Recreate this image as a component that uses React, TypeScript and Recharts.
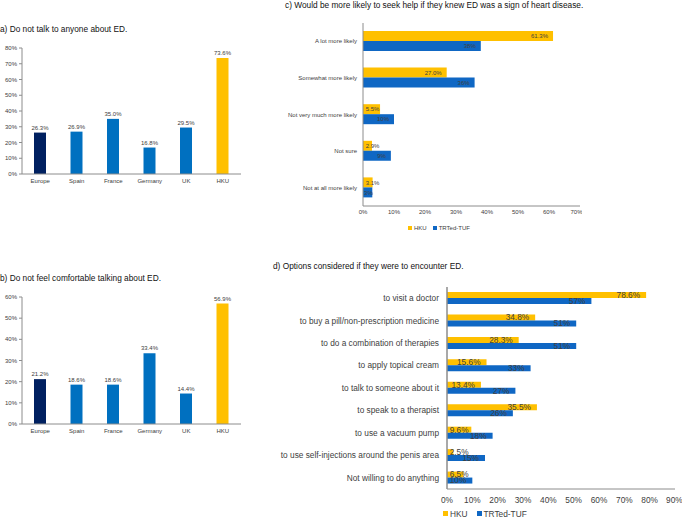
import { BarChart, Bar, XAxis, YAxis, Cell, LabelList, Legend } from "recharts";

const FONT = '"Liberation Sans", Arial, sans-serif';
const YELLOW = "#FFC000";
const BLUE = "#0070C0";
const NAVY = "#002060";
const BAR_BLUE = "#0F67C4";
const AXIS = "#8C8C8C";
const TEXT = "#404040";

// a) / b) country comparison
const countries = ["Europe", "Spain", "France", "Germany", "UK", "HKU"];
const notTalkPct = [26.3, 26.9, 35.0, 16.8, 29.5, 73.6];
const notComfortablePct = [21.2, 18.6, 18.6, 33.4, 14.4, 56.9];
const countryColors = [NAVY, BLUE, BLUE, BLUE, BLUE, YELLOW];

// c) seek help if ED is a sign of heart disease
const seekHelpLabels = ["A lot more likely", "Somewhat more likely", "Not very much more likely", "Not sure", "Not at all more likely"];
const seekHelpHku = [61.3, 27.0, 5.5, 2.9, 3.1];
const seekHelpTrted = [38, 36, 10, 9, 3];

// d) options considered
const optionLabels = [
  "to visit a doctor",
  "to buy a pill/non-prescription medicine",
  "to do a combination of therapies",
  "to apply topical cream",
  "to talk to someone about it",
  "to speak to a therapist",
  "to use a vacuum pump",
  "to use self-injections around the penis area",
  "Not willing to do anything",
];
const optionHku = [78.6, 34.8, 28.3, 15.6, 13.4, 35.5, 9.6, 2.5, 6.5];
const optionTrted = [57, 51, 51, 33, 27, 26, 18, 15, 10];

const ticks60 = [0, 10, 20, 30, 40, 50, 60];
const ticks70 = [0, 10, 20, 30, 40, 50, 60, 70];
const ticks80 = [0, 10, 20, 30, 40, 50, 60, 70, 80];
const ticks90 = [0, 10, 20, 30, 40, 50, 60, 70, 80, 90];

const pct = (v: number) => `${v}%`;
const pct1 = (v: number) => `${Number(v).toFixed(1)}%`;

function Title({ text, left, top }: { text: string; left: number; top: number }) {
  return (
    <div style={{ position: "absolute", left, top, fontSize: 8.3, lineHeight: "10px", whiteSpace: "nowrap", color: "#111", fontFamily: FONT }}>
      {text}
    </div>
  );
}

// single-line category tick, right aligned against the axis
function categoryTick(fontSize: number) {
  return (props: any) => {
    const { x, y, payload } = props;
    return (
      <text x={x} y={y} dy="0.35em" textAnchor="end" fontSize={fontSize} fill={TEXT} fontFamily={FONT}>
        {payload.value}
      </text>
    );
  };
}

// value label at the inner end of a horizontal bar, pushed out when the bar is too short
function endLabel(fontSize: number, fmt: (v: number) => string, pad: number) {
  return (props: any) => {
    const { x, y, width, height, value } = props;
    const text = fmt(Number(value));
    const tw = text.length * fontSize * 0.56;
    const tx = Math.max(Number(x) + Number(width) - pad, Number(x) + 3 + tw);
    return (
      <text x={tx} y={Number(y) + Number(height) / 2} dy="0.35em" textAnchor="end" fontSize={fontSize} fill={TEXT} fontFamily={FONT}>
        {text}
      </text>
    );
  };
}

function legendContent(size: number, fontSize: number, height: number, gap: number) {
  const items = [
    { name: "HKU", color: YELLOW },
    { name: "TRTed-TUF", color: BAR_BLUE },
  ];
  return () => (
    <div style={{ display: "flex", alignItems: "center", height, fontSize, lineHeight: 1, fontFamily: FONT, color: TEXT, whiteSpace: "nowrap" }}>
      {items.map((it, i) => (
        <span key={it.name} style={{ display: "flex", alignItems: "center", marginLeft: i ? gap : 0 }}>
          <span style={{ width: size, height: size, background: it.color, marginRight: 2, display: "inline-block" }} />
          {it.name}
        </span>
      ))}
    </div>
  );
}

function CountryChart({ values, max, ticks, top }: { values: number[]; max: number; ticks: number[]; top: number }) {
  const data = countries.map((c, i) => ({ country: c, value: values[i] }));
  return (
    <div style={{ position: "absolute", left: 0, top }}>
      <BarChart width={243} height={top === 40 ? 154 : 155} data={data} margin={{ top: 8, right: 2, bottom: 0, left: 0 }}>
        <XAxis
          dataKey="country"
          height={20}
          tickLine={false}
          tickSize={3}
          tickMargin={2}
          axisLine={{ stroke: AXIS }}
          tick={{ fontSize: 6, fill: TEXT, fontFamily: FONT }}
          interval={0}
        />
        <YAxis
          width={22}
          domain={[0, max]}
          ticks={ticks}
          tickFormatter={pct}
          tickSize={3}
          tickMargin={2}
          tickLine={{ stroke: AXIS }}
          axisLine={{ stroke: AXIS }}
          tick={{ fontSize: 6, fill: TEXT, fontFamily: FONT }}
        />
        <Bar dataKey="value" barSize={12} isAnimationActive={false}>
          {data.map((d, i) => (
            <Cell key={d.country} fill={countryColors[i]} />
          ))}
          <LabelList dataKey="value" position="top" offset={3} formatter={(v: any) => pct1(v)} fontSize={6} fill={TEXT} fontFamily={FONT} />
        </Bar>
      </BarChart>
    </div>
  );
}

function SeekHelpChart() {
  const data = seekHelpLabels.map((l, i) => ({ label: l, hku: seekHelpHku[i], trted: seekHelpTrted[i] }));
  return (
    <div style={{ position: "absolute", left: 250, top: 15 }}>
      <BarChart width={332} height={219} data={data} layout="vertical" barGap={0} margin={{ top: 8, right: 2, bottom: 0, left: 0 }}>
        <XAxis
          type="number"
          domain={[0, 70]}
          ticks={ticks70}
          tickFormatter={pct}
          height={16}
          tickLine={false}
          tickSize={2}
          tickMargin={2}
          axisLine={{ stroke: AXIS }}
          tick={{ fontSize: 6, fill: TEXT, fontFamily: FONT }}
        />
        <YAxis
          type="category"
          dataKey="label"
          width={113}
          tickLine={false}
          tickSize={4}
          tickMargin={2}
          axisLine={{ stroke: AXIS }}
          tick={categoryTick(6)}
          interval={0}
        />
        <Legend verticalAlign="bottom" wrapperStyle={{ left: 158, width: "auto" }} content={legendContent(4, 6, 12, 6)} />
        <Bar dataKey="hku" name="HKU" fill={YELLOW} barSize={10} isAnimationActive={false}>
          <LabelList dataKey="hku" content={endLabel(6, pct1, 5)} />
        </Bar>
        <Bar dataKey="trted" name="TRTed-TUF" fill={BAR_BLUE} barSize={10} isAnimationActive={false}>
          <LabelList dataKey="trted" content={endLabel(6, pct, 5)} />
        </Bar>
      </BarChart>
    </div>
  );
}

function OptionsChart() {
  const data = optionLabels.map((l, i) => ({ label: l, hku: optionHku[i], trted: optionTrted[i] }));
  return (
    <div style={{ position: "absolute", left: 255, top: 279 }}>
      <BarChart width={427} height={240} data={data} layout="vertical" barGap={0} margin={{ top: 8, right: 7, bottom: 0, left: 0 }}>
        <XAxis
          type="number"
          domain={[0, 90]}
          ticks={ticks90}
          tickFormatter={pct}
          height={20}
          tickLine={false}
          tickSize={6}
          tickMargin={2}
          axisLine={{ stroke: AXIS }}
          tick={{ fontSize: 8.3, fill: TEXT, fontFamily: FONT }}
        />
        <YAxis
          type="category"
          dataKey="label"
          width={192}
          tickLine={false}
          tickSize={6}
          tickMargin={2}
          axisLine={{ stroke: AXIS, strokeWidth: 1.5 }}
          tick={categoryTick(8.3)}
          interval={0}
        />
        <Legend verticalAlign="bottom" wrapperStyle={{ left: 188, width: "auto" }} content={legendContent(5, 8.3, 10, 9)} />
        <Bar dataKey="hku" name="HKU" fill={YELLOW} barSize={6} isAnimationActive={false}>
          <LabelList dataKey="hku" content={endLabel(8.3, pct1, 6)} />
        </Bar>
        <Bar dataKey="trted" name="TRTed-TUF" fill={BAR_BLUE} barSize={6} isAnimationActive={false}>
          <LabelList dataKey="trted" content={endLabel(8.3, pct, 6)} />
        </Bar>
      </BarChart>
    </div>
  );
}

export default function App() {
  return (
    <div style={{ position: "absolute", left: 0, top: 0, width: 682, height: 519, overflow: "hidden", background: "#fff", fontFamily: FONT }}>
      <Title text="a) Do not talk to anyone about ED." left={0} top={24} />
      <CountryChart values={notTalkPct} max={80} ticks={ticks80} top={40} />
      <Title text="b) Do not feel comfortable talking about ED." left={0} top={273} />
      <CountryChart values={notComfortablePct} max={60} ticks={ticks60} top={289} />
      <Title text="c) Would be more likely to seek help if they knew ED was a sign of heart disease." left={285} top={0} />
      <SeekHelpChart />
      <Title text="d) Options considered if they were to encounter ED." left={273} top={261} />
      <OptionsChart />
    </div>
  );
}
